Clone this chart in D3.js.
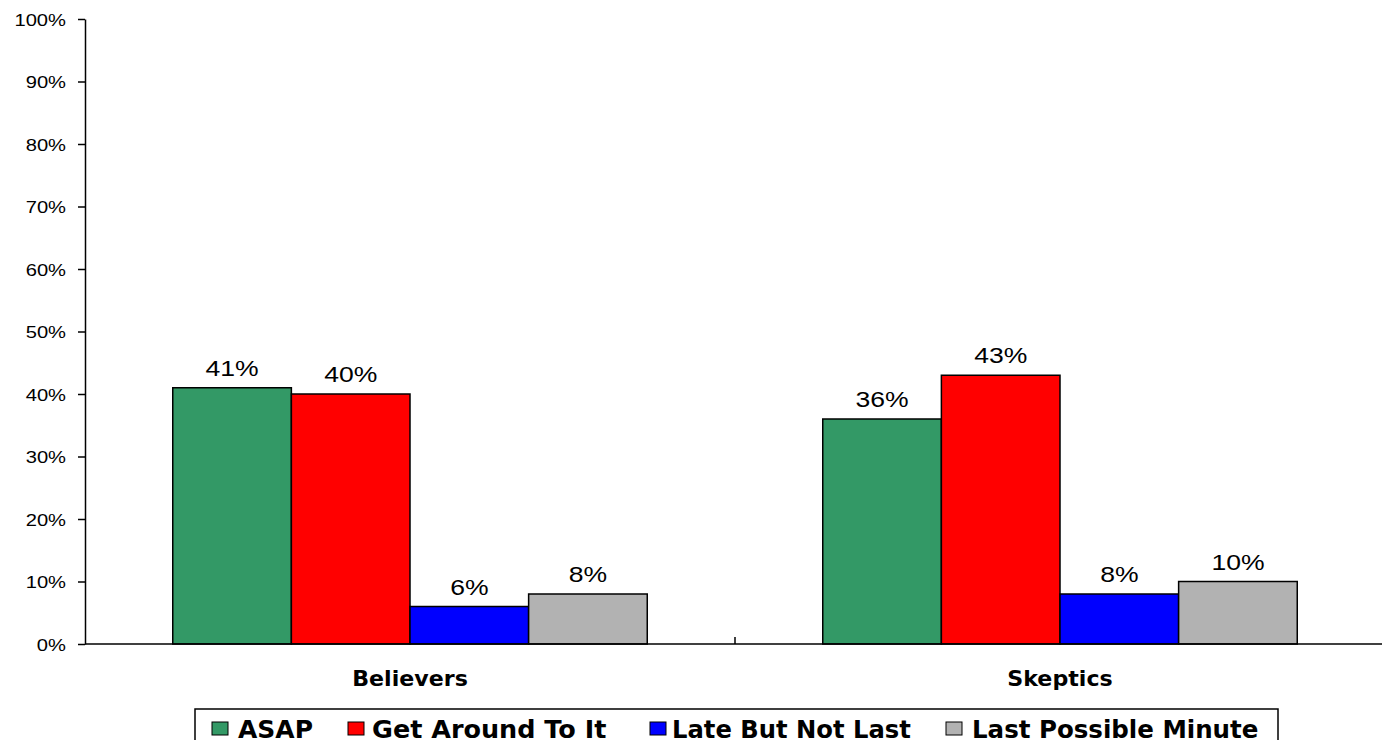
<!DOCTYPE html>
<html>
<head>
<meta charset="utf-8">
<script src="https://cdn.jsdelivr.net/npm/d3@7/dist/d3.min.js"></script>
<style>
  html, body { margin: 0; padding: 0; background: #fff; }
  svg { display: block; }
</style>
</head>
<body>
<svg id="chart" width="1382" height="740"></svg>
<script>
// Share of respondents by procrastination style, per group
const groups = ["Believers", "Skeptics"];
const seriesNames = ["ASAP", "Get Around To It", "Late But Not Last", "Last Possible Minute"];
const seriesColors = ["#339966", "#ff0000", "#0000ff", "#b2b2b2"];
const asap = [41, 36];
const getAround = [40, 43];
const lateNotLast = [6, 8];
const lastMinute = [8, 10];
const yTicks = [0, 10, 20, 30, 40, 50, 60, 70, 80, 90, 100];

const seriesValues = [asap, getAround, lateNotLast, lastMinute];

const svg = d3.select("#chart");
const plotLeft = 85, plotRight = 1385, plotTop = 19, plotBottom = 644;
const sansFont = "Liberation Sans, Arial, sans-serif";
const boldFont = "DejaVu Sans, Verdana, sans-serif";

const x = d3.scaleBand().domain(groups).range([plotLeft, plotRight]).padding(0);
// the four bars sit in the central 73% of each group band
const groupFrac = 0.73;
const inner = d3.scaleBand().domain(seriesNames)
  .range([x.bandwidth() * (1 - groupFrac) / 2, x.bandwidth() * (1 + groupFrac) / 2])
  .padding(0);

const y = d3.scaleLinear().domain([0, 100]).range([plotBottom, plotTop]);

// text with a slightly wide set, drawn around its anchor point
function wideText(parent, px, py, str, opts) {
  return parent.append("text")
    .attr("transform", `translate(${px},${py}) scale(${opts.sx},1)`)
    .attr("text-anchor", opts.anchor || "middle")
    .style("font-family", opts.family)
    .style("font-size", opts.size + "px")
    .style("font-weight", opts.weight || "normal")
    .attr("fill", "#000")
    .text(str);
}

// y axis
const yAxis = svg.append("g")
  .attr("transform", `translate(${plotLeft},0)`)
  .call(d3.axisLeft(y).tickValues(yTicks).tickFormat(d => d + "%").tickSize(7).tickSizeOuter(0));
yAxis.select(".domain").attr("stroke", "#000").attr("stroke-width", 1.5);
yAxis.selectAll(".tick line").attr("stroke", "#000").attr("stroke-width", 1.5);
yAxis.selectAll(".tick text").remove();
yAxis.selectAll(".tick").each(function(d) {
  wideText(d3.select(this), -19, 6, d + "%", { sx: 1.26, size: 16, family: sansFont, anchor: "end" });
});

// bars and value labels
groups.forEach((g, gi) => {
  const gx = x(g);
  seriesNames.forEach((s, si) => {
    const v = seriesValues[si][gi];
    svg.append("rect")
      .attr("x", gx + inner(s))
      .attr("y", y(v))
      .attr("width", inner.bandwidth())
      .attr("height", y(0) - y(v))
      .attr("fill", seriesColors[si])
      .attr("stroke", "#000")
      .attr("stroke-width", 1.5);
    wideText(svg, gx + inner(s) + inner.bandwidth() / 2, y(v) - 12, v + "%",
      { sx: 1.18, size: 22.5, family: sansFont });
  });
});

// x axis
svg.append("line")
  .attr("x1", plotLeft).attr("x2", plotRight)
  .attr("y1", plotBottom).attr("y2", plotBottom)
  .attr("stroke", "#000").attr("stroke-width", 1.5);
groups.slice(1).forEach(g => {
  svg.append("line")
    .attr("x1", x(g)).attr("x2", x(g))
    .attr("y1", plotBottom).attr("y2", plotBottom - 7)
    .attr("stroke", "#000").attr("stroke-width", 1.5);
});
groups.forEach(g => {
  wideText(svg, x(g) + x.bandwidth() / 2, 686, g,
    { sx: 1.08, size: 20.5, family: boldFont, weight: "bold" });
});

// legend
const legend = svg.append("g");
legend.append("rect")
  .attr("x", 195).attr("y", 709)
  .attr("width", 1083).attr("height", 50)
  .attr("fill", "#fff").attr("stroke", "#000").attr("stroke-width", 1.5);
const legendX = [212, 348, 650, 946];
const legendTextX = [238, 372, 672, 972];
const legendSx = [1.02, 1.04, 0.99, 1.0];
seriesNames.forEach((s, i) => {
  legend.append("rect")
    .attr("x", legendX[i]).attr("y", 722)
    .attr("width", 16).attr("height", 13)
    .attr("fill", seriesColors[i])
    .attr("stroke", "#000").attr("stroke-width", 1);
  wideText(legend, legendTextX[i], 738, s,
    { sx: legendSx[i], size: 24.5, family: boldFont, weight: "bold", anchor: "start" });
});
</script>
</body>
</html>
